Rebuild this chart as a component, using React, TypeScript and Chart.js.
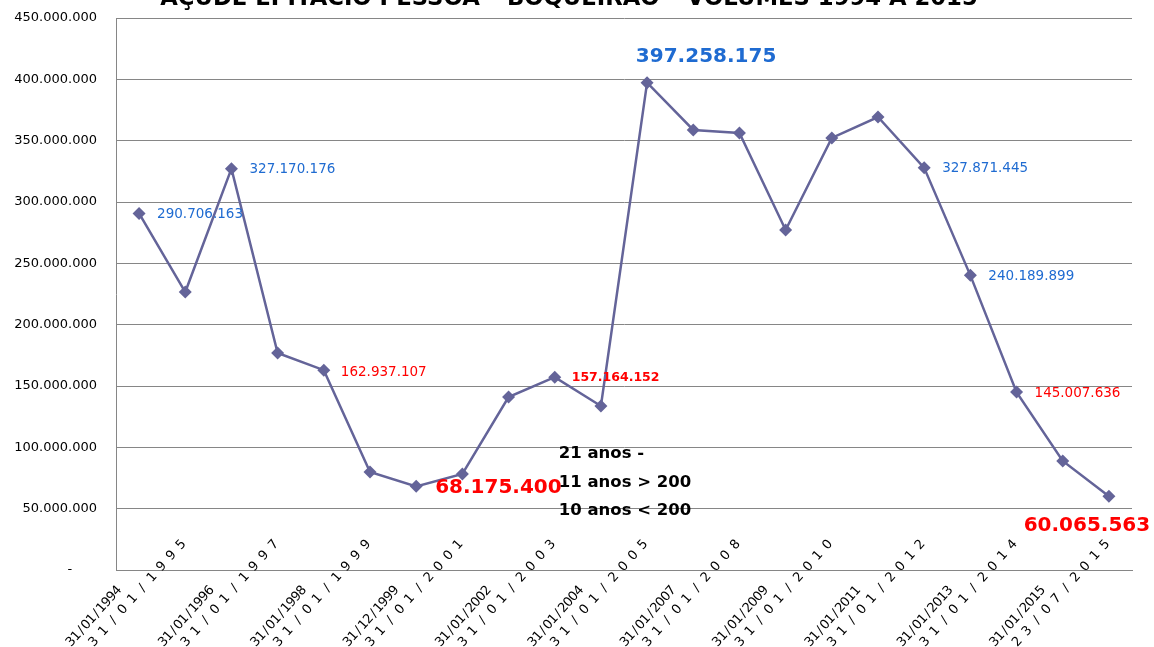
import { useEffect, useRef } from "react";
import { Chart, registerables } from "chart.js";

Chart.register(...registerables);

const chartTitle = "AÇUDE EPITÁCIO PESSOA – BOQUEIRÃO – VOLUMES 1994 A 2015";

const categories = [
  "31/01/1994", "31/01/1995", "31/01/1996", "31/01/1997", "31/01/1998", "31/01/1999",
  "31/12/1999", "31/01/2001", "31/01/2002", "31/01/2003", "31/01/2004", "31/01/2005",
  "31/01/2007", "31/01/2008", "31/01/2009", "31/01/2010", "31/01/2011", "31/01/2012",
  "31/01/2013", "31/01/2014", "31/01/2015", "23/07/2015",
];

const volumes = [
  290706163, 226600000, 327170176, 176900000, 162937107, 79900000,
  68175400, 78300000, 141000000, 157164152, 133700000, 397258175,
  358700000, 356200000, 277200000, 352200000, 369300000, 327871445,
  240189899, 145007636, 88900000, 60065563,
];

const yTicks = [0, 50000000, 100000000, 150000000, 200000000, 250000000, 300000000, 350000000, 400000000, 450000000];

const notes = ["21 anos -", "11 anos > 200", "10 anos < 200"];

// indices of points that carry a value label
const labelledIdx = [0, 2, 4, 6, 9, 11, 17, 18, 19, 21];

// styling for value labels (style only, not data)
const BLUE = "#1f6bd1";
const RED = "#ff0000";
const SMALL = "13.5px 'DejaVu Sans'";
const BIG = "bold 20px 'DejaVu Sans'";
const labelStyle: Record<number, { color: string; font: string; dx: number; dy: number; align: CanvasTextAlign }> = {
  0: { color: BLUE, font: SMALL, dx: 18, dy: 1, align: "left" },
  2: { color: BLUE, font: SMALL, dx: 18, dy: 1, align: "left" },
  4: { color: RED, font: SMALL, dx: 17, dy: 2, align: "left" },
  6: { color: RED, font: BIG, dx: 19, dy: 1, align: "left" },
  9: { color: RED, font: "bold 12.5px 'DejaVu Sans'", dx: 17, dy: 1, align: "left" },
  11: { color: BLUE, font: BIG, dx: 59, dy: -26, align: "center" },
  17: { color: BLUE, font: SMALL, dx: 18, dy: 1, align: "left" },
  18: { color: BLUE, font: SMALL, dx: 18, dy: 1, align: "left" },
  19: { color: RED, font: SMALL, dx: 18, dy: 1, align: "left" },
  21: { color: RED, font: BIG, dx: -22, dy: 29, align: "center" },
};

const fmt = (n: number) => String(Math.round(n)).replace(/\B(?=(\d{3})+(?!\d))/g, ".");

const overlay = {
  id: "overlay",
  afterDatasetsDraw(chart: any) {
    const ctx: CanvasRenderingContext2D = chart.ctx;
    const xs = chart.scales.x;
    const ys = chart.scales.y;
    const area = chart.chartArea;
    const meta = chart.getDatasetMeta(0);

    ctx.save();
    // value labels
    ctx.textBaseline = "middle";
    labelledIdx.forEach((i) => {
      const st = labelStyle[i];
      const pt = meta.data[i];
      ctx.font = st.font;
      ctx.fillStyle = st.color;
      ctx.textAlign = st.align;
      ctx.fillText(fmt(volumes[i]), pt.x + st.dx, pt.y + st.dy);
    });

    // notes
    ctx.font = "bold 16.5px 'DejaVu Sans'";
    ctx.fillStyle = "#000";
    ctx.textAlign = "left";
    const nx = xs.getPixelForValue(9) + 4;
    notes.forEach((t, k) => {
      const v = 95000000 - k * 23500000;
      ctx.fillText(t, nx, ys.getPixelForValue(v));
    });

    // title (partly cut off at the top, as in the reference)
    ctx.font = "bold 20px 'DejaVu Sans'";
    const w20 = ctx.measureText(chartTitle).width;
    const size = (20 * 818) / w20;
    ctx.font = `bold ${size}px 'DejaVu Sans'`;
    ctx.textAlign = "center";
    ctx.textBaseline = "alphabetic";
    ctx.fillText(chartTitle, 569, 5);

    // x labels, drawn char by char along a diagonal
    ctx.font = "13px 'DejaVu Sans'";
    ctx.fillStyle = "#000";
    ctx.textAlign = "center";
    ctx.textBaseline = "middle";
    const ang = (-48 * Math.PI) / 180;
    const ux = Math.cos(ang);
    const uy = Math.sin(ang);
    categories.forEach((lab, i) => {
      const x = xs.getPixelForValue(i);
      const wide = i % 2 === 1;
      const step = wide ? 14.5 : 7.6;
      const chars = lab.split("");
      const endX = x + (wide ? -4 : -22);
      const endY = wide ? area.bottom - 25 : area.bottom + 21;
      chars.forEach((c, k) => {
        const d = (chars.length - 1 - k) * step;
        ctx.save();
        ctx.translate(endX - ux * d, endY - uy * d);
        ctx.rotate(ang);
        ctx.fillText(c, 0, 0);
        ctx.restore();
      });
    });
    ctx.restore();
  },
};

export default function App() {
  const ref = useRef<HTMLCanvasElement | null>(null);

  useEffect(() => {
    document.body.style.margin = "0";
    document.body.style.overflow = "hidden";
    if (!ref.current) return;
    const chart = new Chart(ref.current, {
      type: "line",
      data: {
        labels: categories,
        datasets: [
          {
            data: volumes,
            borderColor: "#646499",
            backgroundColor: "#646499",
            borderWidth: 2.5,
            pointStyle: "rectRot",
            pointRadius: 6.5,
            pointBorderWidth: 0,
            pointBackgroundColor: "#646499",
            tension: 0,
          },
        ],
      },
      options: {
        responsive: false,
        animation: false,
        events: [],
        layout: { autoPadding: false, padding: { left: 0, right: 22, top: 18, bottom: 0 } },
        plugins: {
          legend: { display: false },
          tooltip: { enabled: false },
          title: { display: false },
          subtitle: { display: false },
        },
        scales: {
          x: {
            type: "category",
            offset: true,
            grid: { display: false },
            border: { display: true, color: "#868686", width: 1 },
            ticks: { display: false },
            afterFit: (s: any) => {
              s.height = 77;
              s.paddingLeft = 0;
              s.paddingRight = 0;
            },
          },
          y: {
            min: 0,
            max: 450000000,
            afterBuildTicks: (s: any) => {
              s.ticks = yTicks.map((v) => ({ value: v }));
            },
            grid: { color: "#868686", lineWidth: 1, drawTicks: false },
            border: { display: true, color: "#868686", width: 1 },
            ticks: {
              font: { family: "DejaVu Sans", size: 13 },
              color: "#000",
              padding: 19,
              callback: (v: any) => (Number(v) === 0 ? "-      " : fmt(Number(v))),
            },
            afterFit: (s: any) => {
              s.width = 116;
              s.paddingTop = 0;
              s.paddingBottom = 0;
            },
          },
        },
      },
      plugins: [overlay],
    });
    return () => chart.destroy();
  }, []);

  return (
    <div style={{ width: 1154, height: 647, background: "#fff" }}>
      <canvas ref={ref} width={1154} height={647} style={{ display: "block" }} />
    </div>
  );
}
